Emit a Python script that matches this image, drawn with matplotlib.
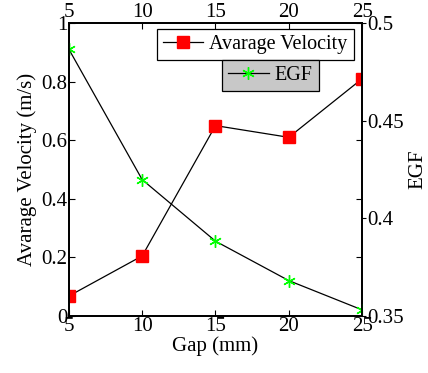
import matplotlib
matplotlib.use("Agg")
import matplotlib.pyplot as plt

plt.rcParams['font.family'] = ['Liberation Serif']
plt.rcParams['font.size'] = 15

# data
gap = [5, 10, 15, 20, 25]
velocity = [0.068, 0.205, 0.65, 0.61, 0.81]
egf = [0.4866, 0.4198, 0.3883, 0.3681, 0.3531]

fig = plt.figure(figsize=(4.28, 3.73), dpi=100)
ax1 = fig.add_axes([0.161, 0.153, 0.685, 0.785])
ax2 = ax1.twinx()

l1, = ax1.plot(gap, velocity, color='black', linewidth=0.9, marker='s',
               markersize=8, markerfacecolor='red', markeredgecolor='red',
               label='Avarage Velocity')
l2, = ax2.plot(gap, egf, color='black', linewidth=0.9, marker=(6, 2, 0),
               markersize=9, markeredgecolor='#00ff00', markeredgewidth=1.0,
               label='EGF')

ax1.set_xlim(5, 25)
ax1.set_ylim(0, 1)
ax1.set_xticks([5, 10, 15, 20, 25])
ax1.set_yticks([0, 0.2, 0.4, 0.6, 0.8, 1])
ax1.set_yticklabels(['0', '0.2', '0.4', '0.6', '0.8', '1'])
ax1.tick_params(direction='in', length=4, width=0.8, top=True, labeltop=True,
                right=True, pad=1)
ax2.set_ylim(0.35, 0.5)
ax2.set_yticks([0.35, 0.4, 0.45, 0.5])
ax2.set_yticklabels(['0.35', '0.4', '0.45', '0.5'])
ax2.tick_params(direction='out', length=3, width=0.8, pad=1)

for ax in (ax1, ax2):
    for s in ax.spines.values():
        s.set_linewidth(1.3)

ax1.set_xlabel('Gap (mm)', labelpad=0)
ax1.set_ylabel('Avarage Velocity (m/s)', labelpad=3)
ax2.set_ylabel('EGF', labelpad=3)

leg1 = ax1.legend(handles=[l1], loc='upper left', bbox_to_anchor=(0.30, 0.98),
                  frameon=True, fancybox=False, edgecolor='black',
                  facecolor='white', framealpha=1, borderpad=0.3,
                  handlelength=2.0, handletextpad=0.3, borderaxespad=0,
                  fontsize=14.5)
leg1.get_frame().set_linewidth(0.9)
leg2 = ax2.legend(handles=[l2], loc='upper left', bbox_to_anchor=(0.523, 0.875),
                  frameon=True, fancybox=False, edgecolor='black',
                  facecolor='#c8c8c8', framealpha=1, borderpad=0.3,
                  handlelength=2.0, handletextpad=0.3, borderaxespad=0,
                  fontsize=14.5)
leg2.get_frame().set_linewidth(0.9)

fig.savefig('out.png', dpi=100)
